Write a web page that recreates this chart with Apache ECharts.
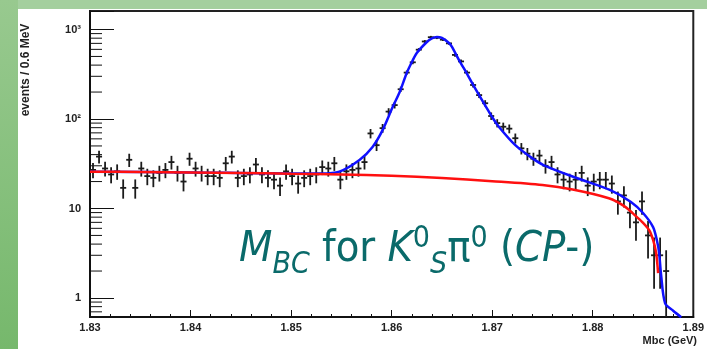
<!DOCTYPE html>
<html>
<head>
<meta charset="utf-8">
<script src="https://cdn.jsdelivr.net/npm/echarts@6/dist/echarts.min.js"></script>
<style>
html, body { margin: 0; padding: 0; background: #fff; }
#main { width: 707px; height: 349px; }
</style>
</head>
<body>
<div id="main"></div>
<script>
// Mbc histogram, 0.6 MeV bins starting at 1.83 GeV
var binStart = 1.83;
var binWidth = 0.0006;
var counts = [
	27, 38, 28, 24, 26, 17, 35, 17, 28, 23,
	22, 25, 27, 33, 25, 20, 36, 28, 25, 23,
	23, 22, 32, 38, 22, 23, 24, 31, 24, 22,
	21, 18, 26, 23, 19, 22, 23, 24, 29, 28,
	32, 21, 26, 27, 28, 33, 69, 51, 79, 121,
	143, 215, 330, 430, 595, 735, 820, 810, 770, 700,
	520, 440, 330, 240, 185, 150, 108, 90, 82, 78,
	61, 47, 41, 36, 39, 30, 33, 24, 21, 20,
	21, 25, 18, 20, 21, 21, 19, 12, 14, 9,
	7, 12, 5, 3, 3, 2
];

// fitted background (red) and total (blue)
var bgFit = [
	[1.830, 25.8], [1.835, 25.6], [1.840, 25.3], [1.845, 25.0], [1.850, 24.5],
	[1.855, 24.0], [1.860, 23.2], [1.865, 21.9], [1.870, 20.2], [1.875, 18.3],
	[1.878, 16.3], [1.8816, 13.0], [1.8832, 10.5], [1.8842, 8.4], [1.8849, 7.1],
	[1.8856, 5.75], [1.8860, 4.45], [1.8863, 3.2], [1.8865, 1.9]
];
var totalFit = [
	[1.830, 25.8], [1.840, 25.3], [1.850, 24.6], [1.853, 24.6], [1.8548, 25.8],
	[1.8568, 34.8], [1.8581, 48.7], [1.8591, 75], [1.8601, 136], [1.8608, 200],
	[1.8615, 326], [1.862, 430], [1.8625, 546], [1.8635, 725], [1.864, 795],
	[1.8645, 825], [1.865, 805], [1.8657, 707], [1.866, 640], [1.8667, 456],
	[1.8675, 320], [1.868, 253], [1.8687, 185], [1.8694, 136], [1.870, 105],
	[1.8707, 81], [1.8723, 51], [1.8739, 37], [1.8751, 30.6], [1.8784, 21.9],
	[1.8817, 16.1], [1.8838, 11.8], [1.885, 8.9], [1.886, 6.2], [1.8864, 4.3],
	[1.8866, 3.2], [1.8868, 1.8], [1.8872, 0.87], [1.888, 0.72], [1.8888, 0.61]
];

var xMin = 1.83, xMax = 1.89, xStep = 0.01;
var yMin = 0.613, yMax = 1610;
var yTickValues = [1, 10, 100, 1000];
var yTickLabels = ['1', '10', '10²', '10³'];
var yMinorTicks = [0.7, 0.8, 0.9, 2, 3, 4, 5, 6, 7, 8, 9, 20, 30, 40, 50, 60, 70, 80, 90,
	200, 300, 400, 500, 600, 700, 800, 900];

var histData = counts.map(function(n, i) {
	return [binStart + binWidth * (i + 0.5), n];
});
var minorData = yMinorTicks.map(function(v) {
	return [xMin, v];
});

function renderPoint(params, api) {
	var x = api.value(0), n = api.value(1);
	var err = Math.sqrt(n);
	var lo = api.coord([x, Math.max(n - err, 0.3)]);
	var hi = api.coord([x, n + err]);
	var l = api.coord([x - binWidth / 2, n]);
	var r = api.coord([x + binWidth / 2, n]);
	var st = { stroke: '#1b1b1b', lineWidth: 1.8 };
	return {
		type: 'group',
		children: [
			{ type: 'line', shape: { x1: lo[0], y1: lo[1], x2: hi[0], y2: hi[1] }, style: st },
			{ type: 'line', shape: { x1: l[0], y1: l[1], x2: r[0], y2: r[1] }, style: st }
		]
	};
}

function renderMinorTick(params, api) {
	var p = api.coord([api.value(0), api.value(1)]);
	return {
		type: 'line',
		shape: { x1: p[0], y1: p[1], x2: p[0] + 12, y2: p[1] },
		style: { stroke: '#111', lineWidth: 1 }
	};
}

var labelFont = {
	color: '#222',
	fontFamily: 'Liberation Sans',
	fontWeight: 'bold',
	fontSize: 11
};
var titleFont = '"DejaVu Sans Condensed", "DejaVu Sans"';

var chart = echarts.init(document.getElementById('main'));
var option = {
	backgroundColor: '#fff',
	animation: false,
	graphic: [
		{
			type: 'rect', z: -10, silent: true,
			shape: { x: 0, y: 0, width: 707, height: 9 },
			style: { fill: '#a4cf9e' }
		},
		{
			type: 'rect', z: -9, silent: true,
			shape: { x: 0, y: 0, width: 18, height: 349 },
			style: {
				fill: new echarts.graphic.LinearGradient(0, 0, 0, 1, [
					{ offset: 0, color: '#98c98f' },
					{ offset: 1, color: '#76b86c' }
				])
			}
		},
		{
			type: 'text', x: 26, y: 70, rotation: Math.PI / 2, z: 10,
			style: {
				text: 'events / 0.6 MeV',
				align: 'center', verticalAlign: 'middle',
				fill: '#222', fontFamily: 'Liberation Sans', fontWeight: 'bold', fontSize: 12
			}
		},
		{
			type: 'text', x: 697, y: 341, z: 10,
			style: {
				text: 'Mbc (GeV)',
				align: 'right', verticalAlign: 'middle',
				fill: '#222', fontFamily: 'Liberation Sans', fontWeight: 'bold', fontSize: 11
			}
		},
		{
			type: 'text', left: 239, top: 220, z: 100,
			style: {
				text: '{i|M}{sub|BC}{n| for }{i|K}{sup|0}{sub|S}{n|π}{sup|0}{n| (}{i|CP}{n|-)}',
				rich: {
					n: { fontSize: 43, lineHeight: 50, fontFamily: titleFont, fill: '#0a6a6a' },
					i: { fontSize: 43, lineHeight: 50, fontStyle: 'italic', fontFamily: titleFont, fill: '#0a6a6a' },
					sub: { fontSize: 30, lineHeight: 30, padding: [30, 0, 0, 0], fontStyle: 'italic', fontFamily: titleFont, fill: '#0a6a6a' },
					sup: { fontSize: 30, lineHeight: 30, padding: [0, 0, 22, 0], fontFamily: titleFont, fill: '#0a6a6a' }
				}
			}
		}
	],
	grid: {
		left: 90,
		top: 11,
		right: 10,
		bottom: 32,
		show: true,
		borderColor: '#222',
		borderWidth: 2,
		backgroundColor: '#fff'
	},
	xAxis: {
		type: 'value',
		min: xMin,
		max: xMax,
		interval: xStep,
		axisLine: { onZero: false, lineStyle: { color: '#111', width: 2 } },
		axisTick: { inside: true, length: 7, lineStyle: { color: '#111' } },
		minorTick: { show: true, splitNumber: 5, length: 3, lineStyle: { color: '#111' } },
		splitLine: { show: false },
		axisLabel: Object.assign({
			margin: 5,
			formatter: function(v) { return v.toFixed(2); }
		}, labelFont)
	},
	yAxis: {
		type: 'log',
		logBase: 10,
		min: yMin,
		max: yMax,
		axisLine: { lineStyle: { color: '#111', width: 2 } },
		axisTick: { inside: true, length: 24, lineStyle: { color: '#111' } },
		splitLine: { show: false },
		axisLabel: Object.assign({
			margin: 9,
			formatter: function(v) {
				for (var k = 0; k < yTickValues.length; k++) {
					if (Math.abs(v - yTickValues[k]) < yTickValues[k] * 1e-6) {
						return yTickLabels[k];
					}
				}
				return '';
			}
		}, labelFont)
	},
	series: [
		{
			name: 'minor ticks',
			type: 'custom',
			renderItem: renderMinorTick,
			data: minorData,
			silent: true,
			z: 1
		},
		{
			name: 'data',
			type: 'custom',
			renderItem: renderPoint,
			data: histData,
			clip: true,
			z: 2
		},
		{
			name: 'total',
			type: 'line',
			data: totalFit,
			showSymbol: false,
			smooth: 0.3,
			lineStyle: { color: '#1010ff', width: 2.5 },
			z: 3
		},
		{
			name: 'background',
			type: 'line',
			data: bgFit,
			showSymbol: false,
			smooth: 0.3,
			lineStyle: { color: '#ff1010', width: 2.5 },
			z: 4
		}
	]
};
chart.setOption(option);
</script>
</body>
</html>
